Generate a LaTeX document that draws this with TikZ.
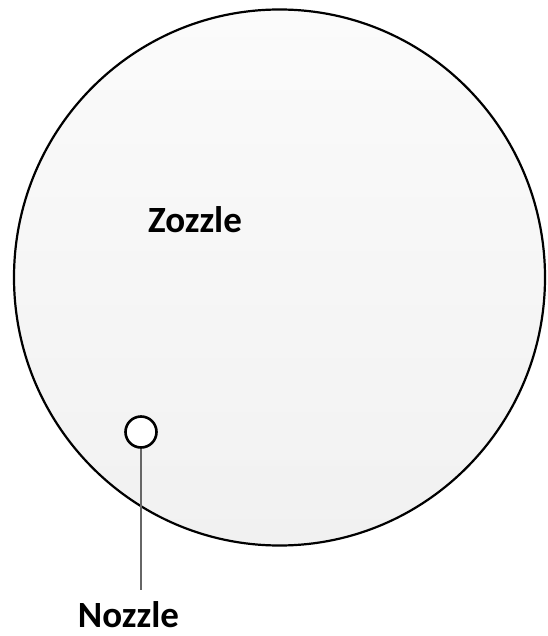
\documentclass[tikz,border=0pt]{standalone}
\usepackage{fontspec}
\setmainfont{Carlito}
\usepackage{tikz}
\usetikzlibrary{shapes.geometric,positioning,calc}
\definecolor{BodyTop}{HTML}{FBFBFB}
\definecolor{BodyBottom}{HTML}{F1F1F1}
\definecolor{StemGray}{HTML}{666666}

\begin{document}
\begin{tikzpicture}[
    x=1pt, y=-1pt,
    body/.style={ellipse, draw=black, line width=2.2pt, top color=BodyTop, bottom color=BodyBottom, minimum width=531pt, minimum height=536pt, inner sep=0pt},
    port/.style={circle, draw=black, line width=2.6pt, fill=white, minimum size=31pt, inner sep=0pt},
    lbl/.style={font=\fontsize{37}{40}\selectfont\bfseries, inner sep=0pt},
    stem/.style={draw=StemGray, line width=2pt}
  ]
    \useasboundingbox (0, 0) rectangle (547, 636);

    \node[body] (zozzle) at (279.5, 277.5) {};
    \node[lbl] (zozzlelabel) at (195, 220) {Zozzle};

    \node[port] (nozzle) at (141, 432) {};
    \node[lbl] (nozzlelabel) at (128.5, 615) {Nozzle};

    \draw[stem] (nozzle.south) -- ($(nozzle.south |- nozzlelabel.north) + (0, -12)$);
  \end{tikzpicture}
\end{document}
